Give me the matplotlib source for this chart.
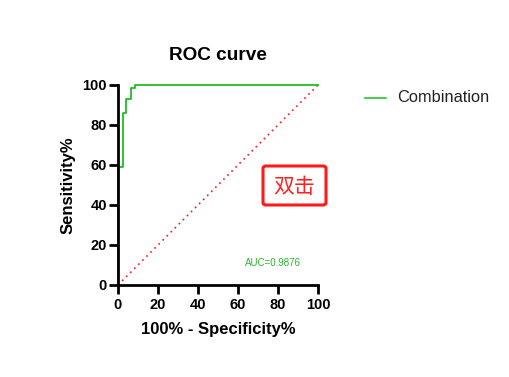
import matplotlib
matplotlib.use("Agg")
import matplotlib.pyplot as plt
from matplotlib.patches import FancyBboxPatch

plt.rcParams['font.family'] = ['Liberation Sans', 'Noto Sans CJK SC', 'DejaVu Sans']

fpr = [0, 0, 2.5, 2.5, 4.2, 4.2, 6.3, 6.3, 8.3, 8.3, 100]
tpr = [0, 59, 59, 86, 86, 93, 93, 98.5, 98.5, 100, 100]
ref_x = [0, 100]
ref_y = [0, 100]
xticks = [0, 20, 40, 60, 80, 100]
yticks = [0, 20, 40, 60, 80, 100]
auc_label = "AUC=0.9876"
series_name = "Combination"

fig = plt.figure(figsize=(5.1, 3.77), dpi=100)
ax = fig.add_axes([118/510, 1-285/377, 200/510, 200/377])

ax.plot(ref_x, ref_y, color='#f0282c', linestyle=(0, (1, 2.3)), linewidth=1.25, clip_on=False)
ax.plot(fpr, tpr, color='#1fbf1f', linewidth=1.3, clip_on=False, label=series_name)

ax.set_xlim(0, 100)
ax.set_ylim(0, 100)
ax.set_xticks(xticks)
ax.set_yticks(yticks)
for s in ['top', 'right']:
    ax.spines[s].set_visible(False)
for s in ['left', 'bottom']:
    ax.spines[s].set_linewidth(2)
ax.tick_params(direction='out', length=6.5, width=2, labelsize=10.5)
ax.tick_params(axis='x', pad=3)
ax.tick_params(axis='y', pad=1.5)
for lab in ax.get_xticklabels() + ax.get_yticklabels():
    lab.set_fontweight('bold')
ax.set_xlabel("100% - Specificity%", fontsize=12, fontweight='bold', labelpad=7)
ax.set_ylabel("Sensitivity%", fontsize=12, fontweight='bold', labelpad=5)
ax.set_title("ROC curve", fontsize=13.7, fontweight='bold', pad=18)

ax.text(77.3, 11, auc_label, color='#2db52d', fontsize=7, ha='center', va='center')

# legend
fig.add_artist(plt.Line2D([365/510, 386/510], [1-98/377, 1-98/377], color='#2ec02e', linewidth=1.2))
fig.text(397/510, 1-98/377, series_name, fontsize=11.8, va='center', ha='left', color='#222222')

# red box
box = FancyBboxPatch((263/510, 1-205/377), 63/510, 39/377,
                     boxstyle="round,pad=0,rounding_size=0.006",
                     transform=fig.transFigure, fill=False, edgecolor='#ff1a1a', linewidth=2.2)
fig.add_artist(box)
fig.text(294.5/510, 1-187/377, "双击", fontsize=15, color='#ff2020', ha='center', va='center',
         family=['Noto Sans CJK SC', 'DejaVu Sans'])

fig.savefig("out.png", dpi=100)
